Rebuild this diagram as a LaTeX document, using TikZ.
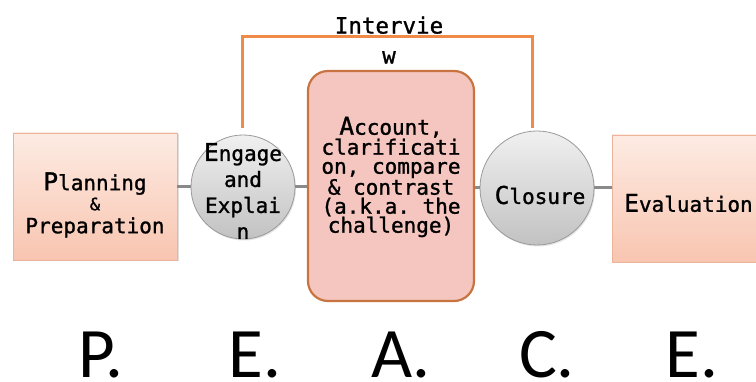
\documentclass[tikz,border=0pt]{standalone}
\usepackage{fontspec}
\setmonofont{DejaVu Sans Mono}[FakeBold=1.2]
\newfontfamily\peacefont{Carlito}
\usetikzlibrary{shadows}
\definecolor{boxtop}{HTML}{FDEBE3}
\definecolor{boxbot}{HTML}{F8C5B0}
\definecolor{boxline}{HTML}{EBB49A}
\definecolor{accfill}{HTML}{F5C6BF}
\definecolor{accline}{HTML}{C87440}
\definecolor{circtop}{HTML}{F0F0F0}
\definecolor{circbot}{HTML}{C2C2C2}
\definecolor{circline}{HTML}{9A9A9A}
\definecolor{connline}{HTML}{8A8A8A}
\definecolor{brack}{HTML}{EF8A48}
\tikzset{
  stagebox/.style={rectangle, draw=boxline, line width=0.8pt, top color=boxtop, bottom color=boxbot,
    minimum width=164pt, minimum height=127pt, inner sep=0pt, align=center,
    drop shadow={opacity=0.25, shadow xshift=1.5pt, shadow yshift=-1.5pt}},
  accbox/.style={rectangle, rounded corners=20pt, draw=accline, line width=2.2pt, fill=accfill,
    minimum width=166pt, minimum height=230pt, inner sep=0pt, align=center},
  stagecirc/.style={circle, draw=circline, line width=0.8pt, top color=circtop, bottom color=circbot,
    inner sep=0pt, drop shadow={opacity=0.2, shadow xshift=1pt, shadow yshift=-1.5pt}},
  monotext/.style={font=\ttfamily\fontsize{21}{22}\selectfont, align=center, inner sep=0pt},
  conn/.style={draw=connline, line width=3pt},
  bracketline/.style={draw=brack, line width=3pt},
  peace/.style={font=\peacefont\fontsize{71}{71}\selectfont, anchor=base, inner sep=0pt, text depth=0pt},
}
\newcommand{\Bigfirst}[1]{{\fontsize{24.5}{24}\selectfont #1}}
\begin{document}
\begin{tikzpicture}[x=1pt,y=-1pt]
\path[use as bounding box, fill=white] (0,0) rectangle (756,382);
\clip (0,0) rectangle (756,382);
% nodes
\node[stagebox] (plan) at (95,196.5) {};
\node[monotext] (plantext) at (95,205) {\Bigfirst{P}lanning\\[-2pt]{\fontsize{17}{17}\selectfont\&}\\[1pt]Preparation};
\node[stagecirc, minimum size=104pt] (engage) at (243,187) {};
\node[monotext, font=\ttfamily\fontsize{21}{26}\selectfont] (engagetext) at (243,191) {\Bigfirst{E}ngage\\and\\Explai\\n};
\node[accbox] (account) at (391,186) {};
\node[monotext, font=\ttfamily\fontsize{21}{19}\selectfont] (accounttext) at (391,177) {\Bigfirst{A}ccount,\\clarificati\\on, compare\\\& contrast\\(a.k.a. the\\challenge)};
\node[stagecirc, minimum size=114pt] (closure) at (537,188) {};
\node[monotext] (closuretext) at (540,195) {\Bigfirst{C}losure};
\node[stagebox] (eval) at (694,198.5) {};
\node[monotext, anchor=west] (evaltext) at (624,203) {\Bigfirst{E}valuation};
% connectors
\path[conn] (plan.east |- engage.west) -- (engage.west);
\path[conn] (engage.east) -- (account.west |- engage.east);
\path[conn] (account.east |- closure.west) -- (closure.west);
\path[conn] (closure.east) -- (eval.west |- closure.east);
% interview bracket
\coordinate (bl) at (242,128);
\coordinate (tl) at (242,37);
\coordinate (tr) at (532,37);
\coordinate (br) at (532,128);
\path[bracketline] (bl) -- (tl) -- (tr) -- (br);
\node[monotext, font=\ttfamily\fontsize{22.5}{30}\selectfont] (interview) at (389,40) {Intervie\\w};
% PEACE letters
\node[peace] (lp) at (101,378) {P.};
\node[peace] (le1) at (255,378) {E.};
\node[peace] (la) at (401,378) {A.};
\node[peace] (lc) at (547,378) {C.};
\node[peace] (le2) at (692,378) {E.};
\end{tikzpicture}
\end{document}
